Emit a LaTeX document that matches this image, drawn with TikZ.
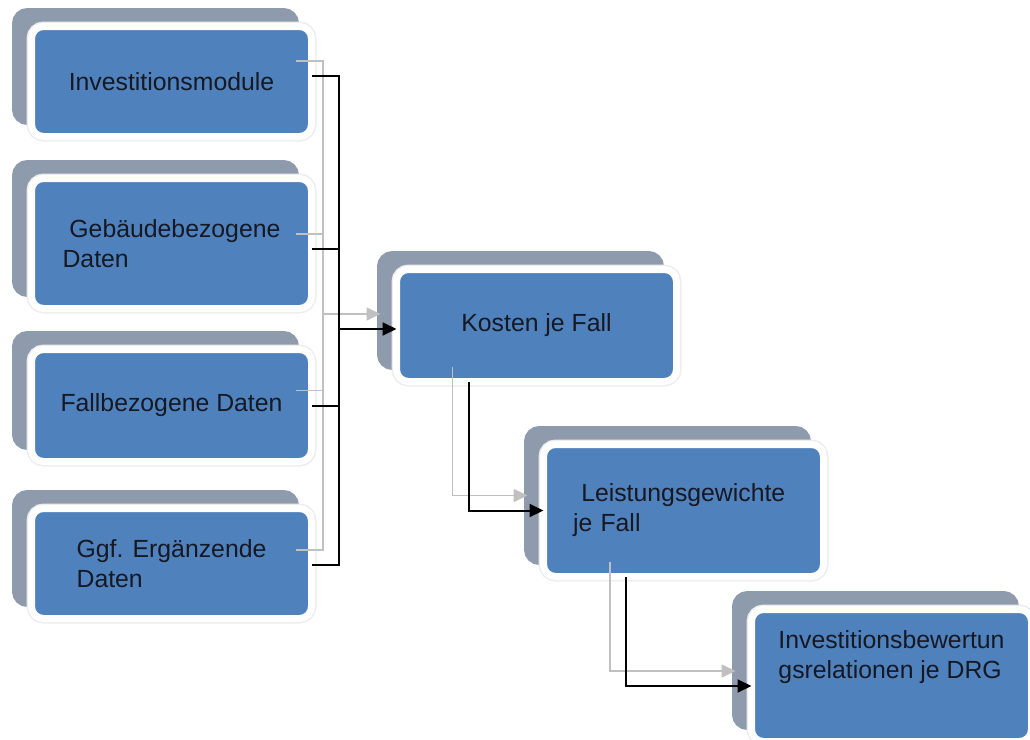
\documentclass[tikz,border=0pt]{standalone}
\usepackage{fontspec}
\setmainfont{Liberation Sans}
\usetikzlibrary{shadows,arrows.meta}
\definecolor{boxblue}{RGB}{79,129,189}
\definecolor{boxshade}{RGB}{141,155,173}
\definecolor{linegray}{RGB}{192,192,192}
\definecolor{textdark}{RGB}{22,24,34}
\begin{document}
\begin{tikzpicture}[x=0.5pt, y=-0.5pt, tip/.style={-{Triangle[length=7pt,width=6.5pt]}}, box node/.style={rectangle,rounded corners=6pt,fill=boxblue,draw=white,line width=3.5pt,outer sep=0pt,minimum width=140pt,general shadow={fill=boxshade,draw=boxshade,line width=3.5pt,shadow xshift=-8pt,shadow yshift=7.5pt},preaction={draw=black!7,line width=5pt}}]%text left in some boxes
\useasboundingbox (0,0) rectangle (1030,740);
\begin{scope}[every node/.style={box node,text=textdark,font=\fontsize{12.4pt}{15pt}\selectfont}]
\node[minimum height=55pt] (modul) at (171.5,81.5) {Investitionsmodule};
\node[minimum height=65pt,align=left] (gebaeude) at (171.5,243.5) {\ Gebäudebezogene\\Daten};
\node[minimum height=56pt] (fall) at (171.5,405.5) {Fallbezogene Daten};
\node[minimum height=55pt,align=left] (ergaenz) at (171.5,563.5) {Ggf. Ergänzende\\Daten};
\node[minimum height=56pt] (kosten) at (536.5,325.5) {Kosten je Fall};
\node[minimum height=66pt,text width=110.5pt,align=left] (gewichte) at (683.5,510.5) {\ Leistungsgewichte\\je Fall};
\node[minimum height=66pt,align=left] (bewertung) at (891.5,675.5) {Investitionsbewertun\\gsrelationen je DRG\\[6pt]\mbox{}};
\end{scope}
\coordinate (bus) at (339,329);
% gray copy first, then black
\foreach \col/\lw/\dx/\dy in {linegray/0.8pt/-8pt/7.5pt, black/1pt/0pt/0pt}{
\begin{scope}[transform canvas={shift={(\dx,\dy)}}, color=\col, line width=\lw]
\draw ([yshift=2.75pt]modul.east) -| (bus);
\draw ([yshift=-2.75pt]gebaeude.east) -| (bus);
\draw (fall.east) -| (bus);
\draw ([yshift=-0.75pt]ergaenz.east) -| (bus);
\draw[tip] (bus) -- ([yshift=-1.75pt]kosten.west);
\draw[tip] ([xshift=36pt]kosten.south west) |- (gewichte.west);
\draw[tip] ([xshift=41.25pt]gewichte.south west) |- ([yshift=-5.25pt]bewertung.west);
\end{scope}}
\end{tikzpicture}
\end{document}
